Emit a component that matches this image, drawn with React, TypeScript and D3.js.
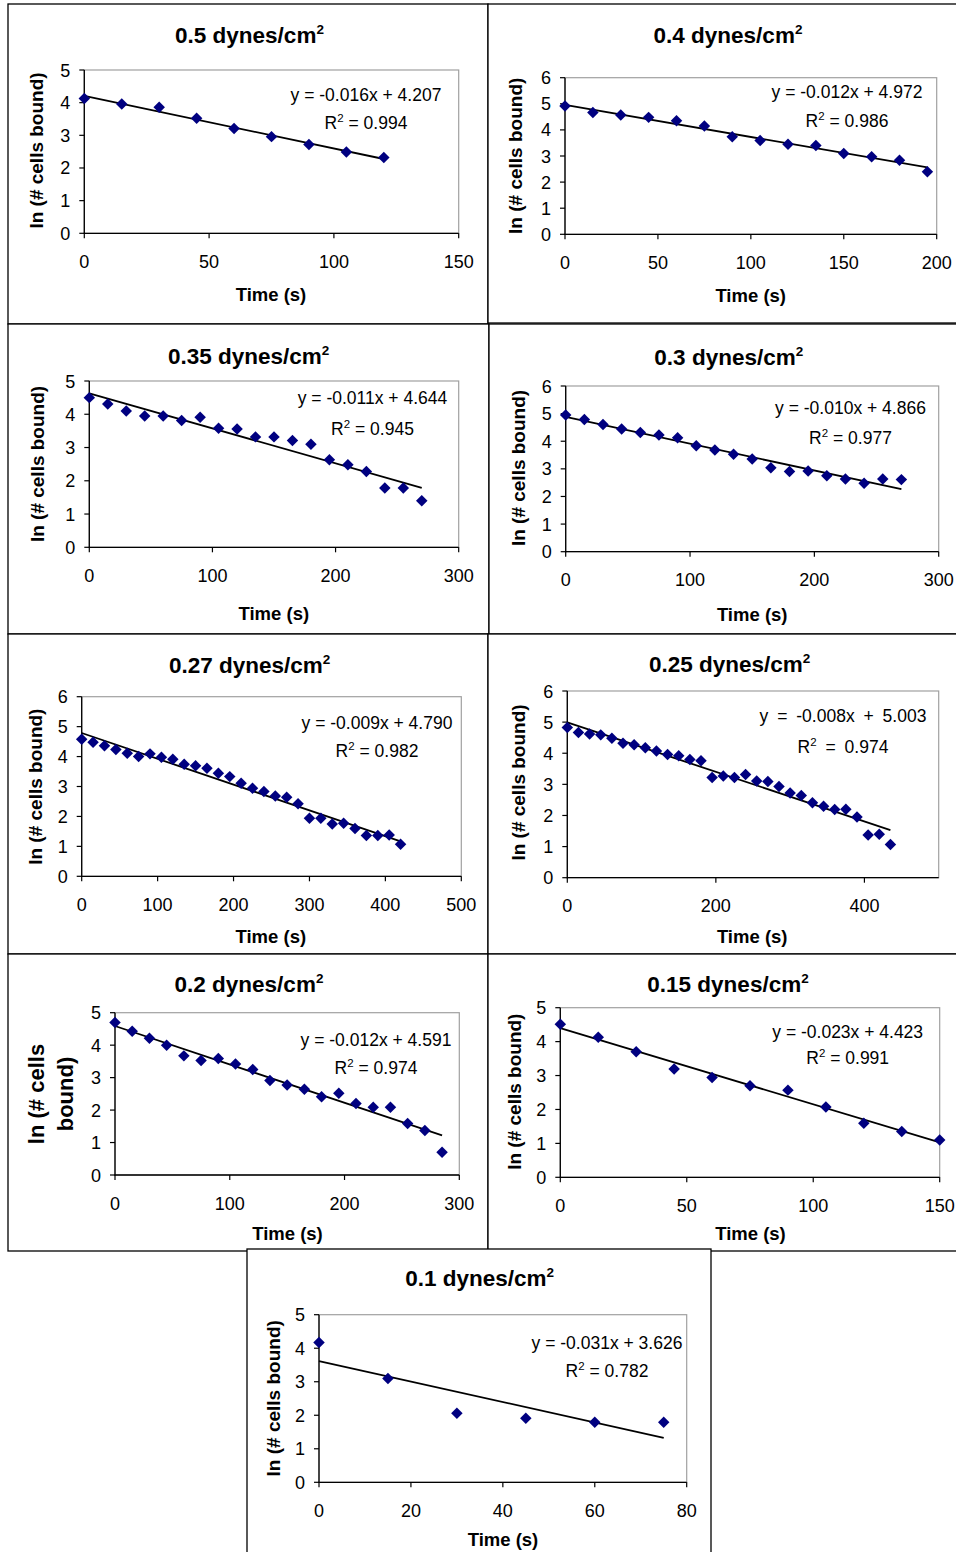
import React from 'react';
import * as d3 from 'd3';

const FONT = "'Liberation Sans', Arial, Helvetica, sans-serif";

// ---------- DATA ----------
const time05 = [0, 15, 30, 45, 60, 75, 90, 105, 120];
const lnCells05 = [4.13, 3.96, 3.86, 3.52, 3.21, 2.96, 2.72, 2.49, 2.32];

const time04 = [0, 15, 30, 45, 60, 75, 90, 105, 120, 135, 150, 165, 180, 195];
const lnCells04 = [4.92, 4.67, 4.57, 4.48, 4.35, 4.15, 3.74, 3.59, 3.45, 3.4, 3.1, 2.97, 2.84, 2.4];

const time035 = [0, 15, 30, 45, 60, 75, 90, 105, 120, 135, 150, 165, 180, 195, 210, 225, 240, 255, 270];
const lnCells035 = [4.5, 4.31, 4.1, 3.95, 3.95, 3.81, 3.91, 3.58, 3.56, 3.32, 3.32, 3.21, 3.1, 2.63, 2.48, 2.28, 1.78, 1.78, 1.4];

const time03 = [0, 15, 30, 45, 60, 75, 90, 105, 120, 135, 150, 165, 180, 195, 210, 225, 240, 255, 270];
const lnCells03 = [4.95, 4.79, 4.61, 4.44, 4.32, 4.23, 4.13, 3.84, 3.68, 3.53, 3.36, 3.04, 2.9, 2.92, 2.75, 2.63, 2.48, 2.63, 2.61];

const time027 = [0, 15, 30, 45, 60, 75, 90, 105, 120, 135, 150, 165, 180, 195, 210, 225, 240, 255, 270, 285, 300, 315, 330, 345, 360, 375, 390, 405, 420];
const lnCells027 = [4.58, 4.48, 4.36, 4.24, 4.11, 4.0, 4.09, 3.98, 3.91, 3.74, 3.69, 3.61, 3.44, 3.33, 3.11, 2.94, 2.83, 2.68, 2.64, 2.42, 1.94, 1.94, 1.75, 1.77, 1.6, 1.36, 1.36, 1.38, 1.07];

const time025 = [0, 15, 30, 45, 60, 75, 90, 105, 120, 135, 150, 165, 180, 195, 210, 225, 240, 255, 270, 285, 300, 315, 330, 345, 360, 375, 390, 405, 420, 435];
const lnCells025 = [4.83, 4.67, 4.62, 4.59, 4.48, 4.32, 4.27, 4.18, 4.07, 3.96, 3.92, 3.8, 3.76, 3.22, 3.27, 3.22, 3.32, 3.11, 3.09, 2.93, 2.72, 2.64, 2.41, 2.3, 2.19, 2.2, 1.95, 1.37, 1.4, 1.07];

const time02 = [0, 15, 30, 45, 60, 75, 90, 105, 120, 135, 150, 165, 180, 195, 210, 225, 240, 255, 270, 285];
const lnCells02 = [4.7, 4.43, 4.21, 4.0, 3.67, 3.53, 3.59, 3.42, 3.25, 2.91, 2.77, 2.64, 2.41, 2.52, 2.2, 2.09, 2.09, 1.59, 1.37, 0.7];

const time015 = [0, 15, 30, 45, 60, 75, 90, 105, 120, 135, 150];
const lnCells015 = [4.51, 4.13, 3.7, 3.19, 2.94, 2.7, 2.57, 2.07, 1.59, 1.35, 1.1];

const time01 = [0, 15, 30, 45, 60, 75];
const lnCells01 = [4.17, 3.1, 2.06, 1.91, 1.79, 1.79];

const shearLabels = ['0.5', '0.4', '0.35', '0.3', '0.27', '0.25', '0.2', '0.15', '0.1'];
const equations = [
  'y = -0.016x + 4.207',
  'y = -0.012x + 4.972',
  'y = -0.011x + 4.644',
  'y = -0.010x + 4.866',
  'y = -0.009x + 4.790',
  'y = -0.008x + 5.003',
  'y = -0.012x + 4.591',
  'y = -0.023x + 4.423',
  'y = -0.031x + 3.626',
];
const rSquared = ['0.994', '0.986', '0.945', '0.977', '0.982', '0.974', '0.974', '0.991', '0.782'];

const xTicks150 = [0, 50, 100, 150];
const xTicks200 = [0, 50, 100, 150, 200];
const xTicks300 = [0, 100, 200, 300];
const xTicks500 = [0, 100, 200, 300, 400, 500];
const xTicks500b = [0, 200, 400];
const xTicks80 = [0, 20, 40, 60, 80];
const yTicks5 = [0, 1, 2, 3, 4, 5];
const yTicks6 = [0, 1, 2, 3, 4, 5, 6];

const seriesTime = [time05, time04, time035, time03, time027, time025, time02, time015, time01];
const seriesLn = [lnCells05, lnCells04, lnCells035, lnCells03, lnCells027, lnCells025, lnCells02, lnCells015, lnCells01];
const xDomains = [[0, 150], [0, 200], [0, 300], [0, 300], [0, 500], [0, 500], [0, 300], [0, 150], [0, 80]];
const xTickSets = [xTicks150, xTicks200, xTicks300, xTicks300, xTicks500, xTicks500b, xTicks300, xTicks150, xTicks80];
const yMaxes = [5, 6, 5, 6, 6, 6, 5, 5, 5];
const yTickSets = [yTicks5, yTicks6, yTicks5, yTicks6, yTicks6, yTicks6, yTicks5, yTicks5, yTicks5];

// ---------- LAYOUT ----------
type Layout = {
  box: [number, number, number, number];
  plot: [number, number, number, number];
  title: [number, number];
  xLab: [number, number];
  yLab: [number, number];
  yLines?: { text: string; x: number }[];
  yLabSize?: number;
  eq: [number, number, number];
  eqSpacing?: number;
};

const layouts: Layout[] = [
  { box: [8, 4, 488, 324], plot: [84.3, 70, 458.7, 233.3], title: [249.5, 43], xLab: [271, 301], yLab: [43, 150.5], eq: [366, 101, 129] },
  { box: [488, 4, 958, 323], plot: [565, 77.7, 936.7, 234.3], title: [728, 43], xLab: [750.7, 302], yLab: [522, 155.8], eq: [847, 98, 127] },
  { box: [8, 324, 489, 634], plot: [89.3, 381, 458.7, 547.3], title: [248.7, 364], xLab: [273.8, 619.5], yLab: [44, 464], eq: [372.5, 404, 435] },
  { box: [489, 324, 958, 634], plot: [565.7, 386, 938.7, 551.7], title: [728.8, 365], xLab: [752.2, 621], yLab: [525, 468], eq: [850.5, 414, 444] },
  { box: [8, 634, 488, 954], plot: [81.7, 696.7, 461.3, 876.3], title: [249.7, 673], xLab: [270.8, 943], yLab: [41.5, 786.7], eq: [377, 729, 757] },
  { box: [488, 634, 958, 954], plot: [567.3, 691, 938.7, 877.7], title: [729.7, 671.7], xLab: [752.2, 943], yLab: [524.5, 782.5], eq: [843, 722, 753], eqSpacing: 4 },
  {
    box: [8, 954, 488, 1251], plot: [115, 1012.7, 459.3, 1175], title: [249, 992.3], xLab: [287.5, 1240], yLab: [44, 1094],
    yLines: [{ text: 'ln (# cells', x: 44 }, { text: 'bound)', x: 72.5 }], yLabSize: 22, eq: [376, 1046, 1074],
  },
  { box: [488, 954, 958, 1251], plot: [560.3, 1007.7, 939.7, 1177.3], title: [728, 991.7], xLab: [750.5, 1240], yLab: [520.5, 1091.7], eq: [847.7, 1038, 1064] },
  { box: [247, 1249, 711, 1560], plot: [319, 1314.7, 686.7, 1482.3], title: [479.7, 1285.7], xLab: [503, 1545.5], yLab: [279.8, 1398.3], eq: [607, 1349, 1377] },
];

function linearFit(xs: number[], ys: number[]) {
  const mx = d3.mean(xs) as number;
  const my = d3.mean(ys) as number;
  let num = 0;
  let den = 0;
  xs.forEach((x, i) => {
    num += (x - mx) * (ys[i] - my);
    den += (x - mx) * (x - mx);
  });
  const slope = num / den;
  return { slope, intercept: my - slope * mx };
}

const MARKER = '#000080';
const diamond = d3.symbol(d3.symbolSquare, 66)() as string;

function Panel({ i }: { i: number }) {
  const L = layouts[i];
  const [pl, pt, pr, pb] = L.plot;
  const x = d3.scaleLinear().domain(xDomains[i]).range([pl, pr]);
  const y = d3.scaleLinear().domain([0, yMaxes[i]]).range([pb, pt]);
  const ts = seriesTime[i];
  const ls = seriesLn[i];
  const fit = linearFit(ts, ls);
  const x0 = ts[0];
  const x1 = ts[ts.length - 1];
  const trend = d3.line<number>()
    .x((d) => x(d))
    .y((d) => y(fit.intercept + fit.slope * d));
  const tickSize = 5;
  return (
    <g>
      <rect x={L.box[0]} y={L.box[1]} width={L.box[2] - L.box[0]} height={L.box[3] - L.box[1]} fill="#fff" stroke="#000" strokeWidth={1.3} />
      {/* title */}
      <text x={L.title[0]} y={L.title[1]} textAnchor="middle" fontFamily={FONT} fontWeight="bold" fontSize={22.5} fill="#000">
        {shearLabels[i]} dynes/cm
        <tspan dy={-9} fontSize={13.5}>2</tspan>
      </text>
      {/* plot area */}
      <rect x={pl} y={pt} width={pr - pl} height={pb - pt} fill="#fff" stroke="#a0a0a0" strokeWidth={1.2} />
      <line x1={pl} x2={pl} y1={pt} y2={pb + 0.5} stroke="#000" strokeWidth={1.3} />
      <line x1={pl - 0.5} x2={pr} y1={pb} y2={pb} stroke="#000" strokeWidth={1.3} />
      {/* y ticks */}
      {yTickSets[i].map((t) => (
        <g key={'y' + t}>
          <line x1={pl - tickSize} x2={pl} y1={y(t)} y2={y(t)} stroke="#000" strokeWidth={1.2} />
          <text x={pl - 14} y={y(t) + 6.5} textAnchor="end" fontFamily={FONT} fontSize={18} fill="#000">{t}</text>
        </g>
      ))}
      {/* x ticks */}
      {xTickSets[i].map((t) => (
        <g key={'x' + t}>
          <line x1={x(t)} x2={x(t)} y1={pb} y2={pb + tickSize} stroke="#000" strokeWidth={1.2} />
          <text x={x(t)} y={pb + 34.5} textAnchor="middle" fontFamily={FONT} fontSize={18} fill="#000">{t}</text>
        </g>
      ))}
      {/* trend line */}
      <path d={trend([x0, x1]) as string} stroke="#000" strokeWidth={1.8} fill="none" />
      {/* markers */}
      {ts.map((t, k) => (
        <path key={k} d={diamond} transform={`translate(${x(t)},${y(ls[k])}) rotate(45)`} fill={MARKER} />
      ))}
      {/* equation */}
      <text x={L.eq[0]} y={L.eq[1]} textAnchor="middle" fontFamily={FONT} fontSize={17.5} fill="#000" wordSpacing={L.eqSpacing || 0}>
        {equations[i]}
      </text>
      <text x={L.eq[0]} y={L.eq[2]} textAnchor="middle" fontFamily={FONT} fontSize={17.5} fill="#000" wordSpacing={L.eqSpacing || 0}>
        R<tspan dy={-7} fontSize={11.5}>2</tspan>
        <tspan dy={7}> = {rSquared[i]}</tspan>
      </text>
      {/* axis titles */}
      <text x={L.xLab[0]} y={L.xLab[1]} textAnchor="middle" fontFamily={FONT} fontWeight="bold" fontSize={18.5} fill="#000">Time (s)</text>
      {L.yLines ? (
        L.yLines.map((ln, k) => (
          <text key={k} transform={`translate(${ln.x},${L.yLab[1]}) rotate(-90)`} textAnchor="middle" fontFamily={FONT} fontWeight="bold" fontSize={L.yLabSize} fill="#000">
            {ln.text}
          </text>
        ))
      ) : (
        <text transform={`translate(${L.yLab[0]},${L.yLab[1]}) rotate(-90)`} textAnchor="middle" fontFamily={FONT} fontWeight="bold" fontSize={19} fill="#000">
          ln (# cells bound)
        </text>
      )}
    </g>
  );
}

export default function App() {
  return (
    <div style={{ position: 'absolute', left: 0, top: 0, width: 956, height: 1552, background: '#fff' }}>
      <svg width={956} height={1552} viewBox="0 0 956 1552" style={{ display: 'block' }}>
        <rect x={0} y={0} width={956} height={1552} fill="#fff" />
        {layouts.map((_, i) => (
          <Panel key={i} i={i} />
        ))}
      </svg>
    </div>
  );
}
